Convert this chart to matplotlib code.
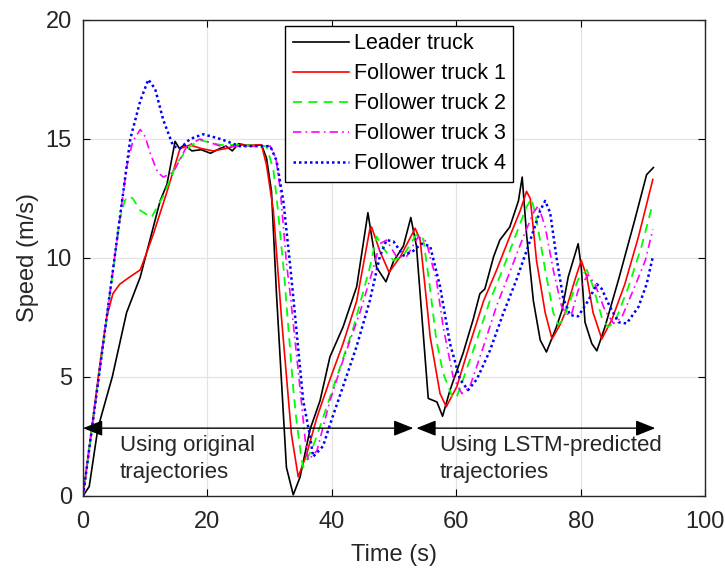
import matplotlib
matplotlib.use("Agg")
import matplotlib.pyplot as plt

plt.rcParams['font.family'] = ['Liberation Sans', 'DejaVu Sans']

# speed profiles (time in s, speed in m/s)
t_leader = [0, 1.0, 2.4, 4.7, 7.0, 9.2, 11.0, 12.4, 13.5, 14.8, 15.5, 16.3, 17.5, 19.0,
            20.5, 22.0, 23.0, 24.0, 25.0, 26.0, 27.0, 28.7, 29.5, 30.3, 31.1, 32.7, 33.8,
            34.9, 36.5, 38.1, 39.7, 41.8, 44.0, 45.8, 47.2, 48.7, 49.9, 51.5, 52.7, 53.6,
            54.7, 55.5, 56.9, 57.8, 59.0, 61.1, 62.7, 63.8, 64.6, 66.0, 67.0, 68.6, 70.0,
            70.6, 71.3, 72.4, 73.5, 74.5, 76.1, 77.0, 78.0, 79.6, 80.1, 80.7, 81.8, 82.6,
            83.9, 86.1, 88.7, 90.6, 91.7]
v_leader = [0, 0.4, 2.86, 5.0, 7.7, 9.2, 11.0, 12.4, 13.1, 14.9, 14.6, 14.75, 14.5, 14.55,
            14.4, 14.6, 14.7, 14.5, 14.8, 14.75, 14.7, 14.75, 14.2, 12.8, 8.5, 1.2, 0.05,
            0.8, 2.8, 4.0, 5.85, 7.1, 8.8, 11.9, 9.6, 9.0, 9.85, 10.5, 11.7, 10.5,
            6.8, 4.1, 3.95, 3.35, 4.45, 6.0, 7.4, 8.5, 8.7, 10.05, 10.75, 11.3, 12.4,
            13.4, 11.0, 8.2, 6.55, 6.05, 7.1, 7.8, 9.2, 10.6, 9.6, 7.3, 6.4, 6.1,
            7.1, 9.1, 11.6, 13.5, 13.8]

t_f1 = [0, 2.7, 3.8, 4.8, 5.9, 7.5, 9.2, 10.2, 11.3, 13.4, 15.6, 17.2, 19.0, 20.9, 23.0,
        25.0, 28.7, 29.5, 30.6, 31.9, 33.5, 34.6, 36.0, 37.6, 39.7, 41.8, 44.0, 46.1, 46.4,
        47.7, 49.2, 51.0, 53.4, 54.2, 55.5, 55.8, 57.4, 58.4, 60.1, 62.2, 64.4, 66.5, 68.6,
        70.3, 71.3, 71.9, 72.9, 74.3, 75.4, 76.7, 77.5, 79.1, 80.1, 81.0, 82.0, 83.4, 85.0,
        87.1, 89.3, 91.6]
v_f1 = [0, 5.5, 7.5, 8.5, 8.9, 9.2, 9.5, 10.2, 11.0, 12.7, 14.6, 14.75, 14.6, 14.5, 14.6,
        14.75, 14.75, 13.9, 12.0, 7.5, 2.6, 0.8, 1.8, 3.3, 4.9, 6.4, 8.2, 11.2, 11.3,
        10.3, 9.4, 10.05, 11.25, 10.75, 7.5, 6.7, 4.3, 3.75, 4.6, 6.4, 8.2, 9.5, 10.9,
        12.0, 12.8, 12.5, 9.9, 7.7, 6.6, 7.2, 7.7, 9.1, 9.9, 9.2, 7.7, 6.6, 7.4,
        8.9, 10.9, 13.3]

t_f2 = [0, 5.9, 6.7, 7.3, 8.0, 9.2, 11.0, 12.9, 15.1, 17.2, 18.8, 22.1, 25.4, 29.5, 30.6,
        31.1, 32.3, 33.8, 34.3, 35.1, 35.4, 37.0, 38.6, 40.8, 43.5, 46.1, 47.2, 48.3, 49.9,
        51.5, 53.6, 54.7, 55.7, 56.8, 57.9, 59.3, 60.0, 61.1, 63.3, 65.4, 67.6, 69.7, 71.3,
        72.1, 72.9, 74.3, 75.6, 76.4, 77.2, 78.0, 79.6, 81.0, 82.0, 83.4, 84.4, 85.5, 87.7,
        89.8, 91.6]
v_f2 = [0, 11.6, 12.4, 12.6, 12.5, 12.0, 11.7, 12.6, 14.0, 14.7, 14.95, 14.75, 14.75, 14.7, 13.7,
        12.6, 9.4, 4.5, 3.2, 1.6, 1.2, 2.1, 3.3, 5.0, 7.1, 9.6, 10.9, 10.4, 9.9,
        10.1, 11.0, 10.8, 8.9, 6.55, 5.15, 4.2, 4.1, 4.9, 6.55, 8.2, 9.6, 11.05, 12.15,
        12.5, 11.6, 9.5, 7.7, 7.2, 7.4, 8.0, 9.1, 9.5, 8.8, 7.5, 7.1, 7.3, 8.8,
        10.5, 12.3]

t_f3 = [0, 7.0, 8.0, 9.2, 10.0, 10.8, 12.0, 12.9, 14.5, 16.7, 18.8, 22.1, 25.4, 30.1, 31.0,
        31.7, 32.7, 33.3, 34.9, 35.7, 36.2, 37.6, 39.7, 41.8, 44.5, 46.7, 47.7, 48.8, 50.4,
        52.0, 53.9, 55.2, 55.8, 56.8, 57.9, 59.5, 60.9, 62.2, 64.4, 66.5, 68.6, 70.8, 72.4,
        73.2, 74.3, 75.6, 76.9, 77.7, 78.5, 79.6, 81.2, 82.3, 83.9, 85.3, 86.6, 88.7, 90.4,
        91.6]
v_f3 = [0, 13.8, 14.9, 15.4, 15.1, 14.4, 13.6, 13.4, 13.6, 14.7, 15.0, 14.7, 14.7, 14.7, 14.2,
        12.9, 9.8, 8.5, 4.5, 2.4, 1.5, 1.9, 4.0, 5.7, 7.7, 9.6, 10.6, 10.75, 10.05,
        10.05, 10.9, 10.7, 10.05, 9.1, 7.1, 5.0, 4.3, 4.6, 6.3, 8.0, 9.4, 10.9, 11.9,
        12.2, 11.3, 9.5, 8.0, 7.65, 7.6, 8.65, 9.3, 8.9, 7.8, 7.25, 7.5, 8.8, 9.9,
        11.2]

t_f4 = [0, 7.6, 9.2, 10.5, 11.6, 12.9, 14.5, 15.6, 17.2, 19.3, 22.1, 25.2, 30.1, 31.1, 32.2,
        33.3, 34.3, 35.4, 36.5, 37.0, 38.6, 39.7, 41.8, 44.0, 46.1, 47.7, 48.8, 49.9, 51.5,
        53.1, 54.4, 55.8, 57.4, 59.0, 60.6, 61.9, 63.3, 65.4, 67.6, 69.7, 71.9, 73.5, 74.3,
        75.1, 76.1, 77.2, 78.3, 79.6, 81.2, 82.6, 83.4, 84.7, 86.1, 87.4, 89.3, 90.6, 91.6]
v_f4 = [0, 15.0, 16.6, 17.5, 17.1, 15.8, 14.7, 14.6, 15.0, 15.2, 15.0, 14.7, 14.7, 14.1, 12.4,
        9.7, 7.0, 4.0, 2.5, 1.65, 2.1, 3.0, 4.6, 6.3, 8.2, 10.05, 10.75, 10.7, 10.1,
        10.3, 10.6, 10.5, 8.8, 6.4, 4.9, 4.45, 4.9, 6.1, 7.7, 9.1, 10.75, 12.0, 12.4,
        11.9, 10.05, 8.3, 7.6, 7.55, 8.2, 8.9, 8.7, 7.95, 7.3, 7.25, 7.95, 8.9, 10.05]

labels = ["Leader truck", "Follower truck 1", "Follower truck 2",
          "Follower truck 3", "Follower truck 4"]

fig = plt.figure(figsize=(7.25, 5.73), dpi=100)
ax = fig.add_axes([0.1145, 0.1344, 0.858, 0.8307])

ax.plot(t_leader, v_leader, color='k', lw=1.2, label=labels[0])
ax.plot(t_f1, v_f1, color='#ff0000', lw=1.2, label=labels[1])
ax.plot(t_f2, v_f2, color='#00ff00', lw=1.3, ls=(0, (5, 3.5)), label=labels[2])
ax.plot(t_f3, v_f3, color='#ff00ff', lw=1.2, ls=(0, (5, 2.5, 1, 2.5)), label=labels[3])
ax.plot(t_f4, v_f4, color='#0000ff', lw=1.8, ls=(0, (1, 1.2)), label=labels[4])

ax.set_xlim(0, 100)
ax.set_ylim(0, 20)
ax.set_xticks([0, 20, 40, 60, 80, 100])
ax.set_yticks([0, 5, 10, 15, 20])
ax.grid(True, color='#e3e3e3', lw=0.9)
ax.set_axisbelow(True)
ax.tick_params(direction='in', top=True, right=True, labelsize=17,
               labelcolor='#262626', length=5)
ax.tick_params(axis='x', pad=11)
ax.tick_params(axis='y', pad=8)
for s in ax.spines.values():
    s.set_linewidth(1.0)
    s.set_color('#262626')

ax.set_xlabel("Time (s)", fontsize=17, color='#262626', labelpad=8)
ax.set_ylabel("Speed (m/s)", fontsize=17, color='#262626', labelpad=5)

leg = ax.legend(loc='upper left', bbox_to_anchor=(0.325, 0.988), fontsize=15.5,
                frameon=True, fancybox=False, framealpha=1, edgecolor='k',
                handlelength=2.6, handletextpad=0.23, labelspacing=0.42,
                borderpad=0.35, borderaxespad=0)
leg.get_frame().set_linewidth(1.0)

# region annotations
arrow = dict(arrowstyle='<|-|>,head_length=1.0,head_width=0.4', color='k',
             lw=1.0, shrinkA=0, shrinkB=0, mutation_scale=12)
ax.annotate('', xy=(0, 2.85), xytext=(53.1, 2.85), arrowprops=arrow)
ax.annotate('', xy=(53.6, 2.85), xytext=(92.0, 2.85), arrowprops=arrow)
ax.text(5.9, 2.55, "Using original\ntrajectories", fontsize=16, va='top',
        ha='left', color='#262626', linespacing=1.35)
ax.text(57.4, 2.55, "Using LSTM-predicted\ntrajectories", fontsize=16, va='top',
        ha='left', color='#262626', linespacing=1.35)

fig.savefig("out.png", dpi=100)
